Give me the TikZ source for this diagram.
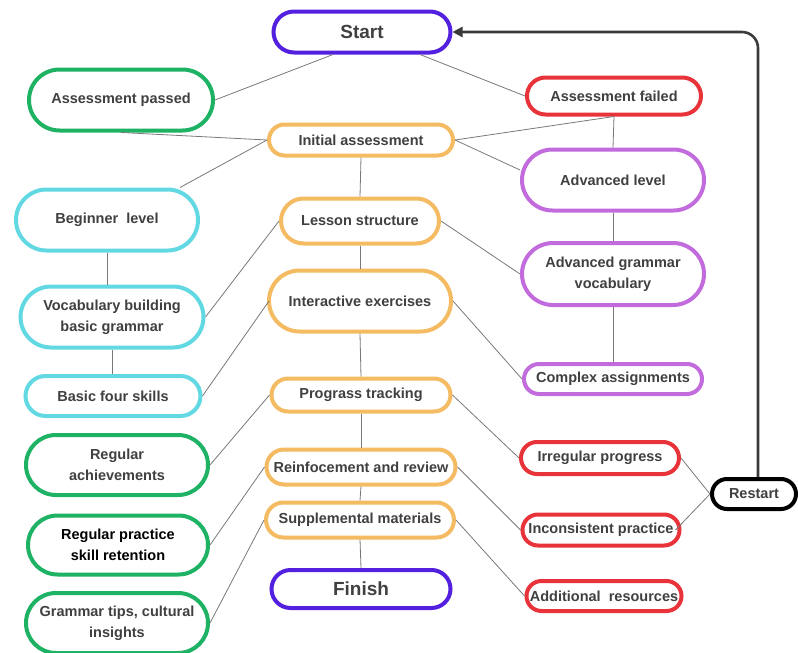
\documentclass[tikz,border=0pt]{standalone}
\usepackage{fontspec}
\setmainfont{Liberation Sans}
\usetikzlibrary{calc,shapes.misc,arrows.meta}
\definecolor{startc}{RGB}{82,32,222}
\definecolor{greenc}{RGB}{30,178,100}
\definecolor{orangec}{RGB}{244,187,98}
\definecolor{cyanc}{RGB}{98,217,226}
\definecolor{violetc}{RGB}{194,107,220}
\definecolor{redc}{RGB}{232,51,58}
\definecolor{linkc}{RGB}{120,120,120}
\definecolor{txt}{RGB}{64,64,64}

\begin{document}
\begin{tikzpicture}[x=1pt,y=-1pt,
	pill/.style 2 args = {rounded rectangle, draw, line width=4pt, fill=white,
		minimum width=#1, minimum height=#2, inner sep=2pt, align=center,
		text=txt, font=\bfseries\fontsize{14.5}{21}\selectfont},
	big/.style = {font=\bfseries\fontsize{19}{22}\selectfont},
	link/.style = {draw=linkc, line width=0.8pt},
	back/.style = {draw=txt!90!black, line width=2.6pt, rounded corners=16pt}]
	\useasboundingbox (0,0) rectangle (798,653);

	% middle column
	\node[pill={181}{41}, draw=startc, big] (start) at (362,32) {Start};
	\node[pill={188}{31}, draw=orangec] (init) at (361,140) {Initial assessment};
	\node[pill={162}{45}, draw=orangec] (lesson) at (360,221) {Lesson structure};
	\node[pill={186}{61}, draw=orangec] (inter) at (360,301) {Interactive exercises};
	\node[pill={183}{33}, draw=orangec] (track) at (361,395) {Prograss tracking};
	\node[pill={193}{35}, draw=orangec] (reinf) at (361,467) {Reinfocement and review};
	\node[pill={192}{35}, draw=orangec] (suppl) at (360,520) {Supplemental materials};
	\node[pill={183}{38}, draw=startc, big] (finish) at (361,589) {Finish};

	% left column
	\node[pill={188}{61}, draw=greenc] (passed) at (121,100) {Assessment passed};
	\node[pill={186}{61}, draw=cyanc] (beginner) at (107,220) {Beginner\ \ level};
	\node[pill={187}{61}, draw=cyanc] (vocab) at (112,317) {Vocabulary building\\basic grammar};
	\node[pill={179}{40}, draw=cyanc] (basic) at (113,396) {Basic four skills};
	\node[pill={186}{60}, draw=greenc] (regach) at (117,465) {Regular\\achievements};
	\node[pill={184}{59}, draw=greenc, text=black] (practice) at (118,545) {Regular practice\\skill retention};
	\node[pill={186}{60}, draw=greenc] (tips) at (117,623) {Grammar tips, cultural\\insights};

	% right column
	\node[pill={178}{37}, draw=redc] (failed) at (614,96) {Assessment failed};
	\node[pill={186}{61}, draw=violetc] (advlevel) at (613,180) {Advanced level};
	\node[pill={186}{62}, draw=violetc] (advgram) at (613,274) {Advanced grammar\\vocabulary};
	\node[pill={182}{30}, draw=violetc] (complex) at (613,379) {Complex assignments};
	\node[pill={162}{32}, draw=redc] (irreg) at (600,458) {Irregular progress};
	\node[pill={161}{31}, draw=redc] (incons) at (601,530) {Inconsistent practice};
	\node[pill={159}{30}, draw=redc] (addres) at (604,596) {Additional\ \ resources};
	\node[pill={88}{30}, draw=black] (restart) at (754,494) {Restart};

	\path[link] ($(start.south) + (-29,0)$) edge (passed.east)
		($(start.south) + (58,0)$) edge (failed.west)
		(passed.south) edge (init.west)
		(init.west) edge ($(beginner.north) + (73,0)$)
		(init.east) edge (failed.south)
		(init.east) edge ($(advlevel.west) + (0,-10)$)
		(failed.south) edge (advlevel.north)
		(init.south) edge (lesson.north)
		(lesson.south) edge (inter.north)
		(inter.south) edge (track.north)
		(track.south) edge (reinf.north)
		(reinf.south) edge (suppl.north)
		(suppl.south) edge (finish.north)
		(beginner.south) edge (beginner.south |- vocab.north)
		(vocab.south) edge (vocab.south |- basic.north)
		(lesson.west) edge (vocab.east)
		($(inter.west) + (2,0)$) edge (basic.east)
		(track.west) edge (regach.east)
		(reinf.west) edge (practice.east)
		(suppl.west) edge (tips.east)
		(lesson.east) edge (advgram.west)
		(advlevel.south) edge (advgram.north)
		(advgram.south) edge (complex.north)
		(inter.east) edge (complex.west)
		(track.east) edge (irreg.west)
		(reinf.east) edge (incons.west)
		(suppl.east) edge (addres.west)
		(irreg.east) edge (restart.west)
		($(incons.east) + (-6,0)$) edge (restart.west);

	\draw[back, -{Triangle[length=10pt, width=10pt]}] ($(restart.north) + (4,0)$) |- (start.east);
\end{tikzpicture}
\end{document}
